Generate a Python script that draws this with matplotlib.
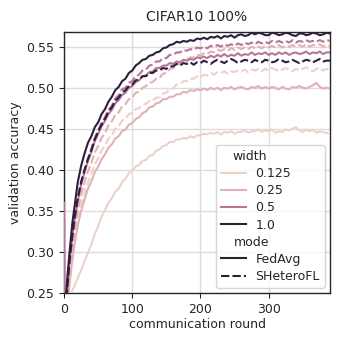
import matplotlib
matplotlib.use("Agg")
import matplotlib.pyplot as plt
import seaborn as sns
from matplotlib.lines import Line2D
from matplotlib.colors import Normalize

rounds = [0, 1, 3, 5, 8, 12, 16, 20, 25] + list(range(30, 391, 5))

fedavg_1_0 = [0.10, 0.22, 0.25, 0.272, 0.30, 0.335, 0.36, 0.385, 0.405,
              0.420, 0.433, 0.441, 0.452, 0.458, 0.468, 0.474, 0.483, 0.489, 0.497, 0.501, 0.508,
              0.511, 0.518, 0.521, 0.527, 0.530, 0.534, 0.535, 0.539, 0.540, 0.543, 0.544, 0.548,
              0.549, 0.552, 0.553, 0.556, 0.555, 0.557, 0.556, 0.558, 0.557, 0.560, 0.559, 0.561,
              0.559, 0.562, 0.561, 0.563, 0.560, 0.563, 0.562, 0.564, 0.561, 0.564, 0.565, 0.563,
              0.564, 0.567, 0.565, 0.567, 0.566, 0.564, 0.564, 0.567, 0.566, 0.564, 0.565, 0.567,
              0.566, 0.564, 0.563, 0.566, 0.566, 0.564, 0.565, 0.567, 0.566, 0.564, 0.565, 0.567,
              0.566]
shetero_1_0 = [0.10, 0.20, 0.235, 0.26, 0.29, 0.32, 0.345, 0.365, 0.385,
               0.400, 0.413, 0.424, 0.437, 0.447, 0.455, 0.462, 0.471, 0.476, 0.484, 0.488, 0.494,
               0.497, 0.502, 0.504, 0.509, 0.510, 0.514, 0.514, 0.518, 0.518, 0.521, 0.521, 0.524,
               0.523, 0.526, 0.526, 0.529, 0.527, 0.530, 0.529, 0.531, 0.528, 0.531, 0.530, 0.533,
               0.531, 0.529, 0.532, 0.534, 0.532, 0.530, 0.533, 0.535, 0.533, 0.530, 0.532, 0.534,
               0.533, 0.531, 0.534, 0.532, 0.531, 0.534, 0.533, 0.531, 0.532, 0.535, 0.533, 0.531,
               0.532, 0.534, 0.532, 0.530, 0.532, 0.534, 0.533, 0.531, 0.533, 0.535, 0.532, 0.533,
               0.533]
fedavg_0_5 = [0.36, 0.20, 0.235, 0.258, 0.288, 0.318, 0.342, 0.362, 0.382,
              0.397, 0.411, 0.422, 0.435, 0.444, 0.453, 0.460, 0.468, 0.473, 0.481, 0.485, 0.491,
              0.494, 0.500, 0.502, 0.507, 0.509, 0.514, 0.515, 0.519, 0.520, 0.524, 0.524, 0.527,
              0.527, 0.530, 0.529, 0.532, 0.531, 0.534, 0.533, 0.535, 0.534, 0.537, 0.536, 0.538,
              0.536, 0.539, 0.537, 0.540, 0.538, 0.541, 0.538, 0.540, 0.539, 0.542, 0.539, 0.541,
              0.540, 0.543, 0.540, 0.542, 0.541, 0.543, 0.540, 0.542, 0.540, 0.543, 0.541, 0.543,
              0.540, 0.542, 0.543, 0.541, 0.542, 0.544, 0.541, 0.543, 0.542, 0.544, 0.541, 0.543,
              0.543]
shetero_0_5 = [0.10, 0.20, 0.235, 0.26, 0.29, 0.322, 0.346, 0.366, 0.386,
               0.400, 0.414, 0.426, 0.439, 0.448, 0.458, 0.464, 0.473, 0.478, 0.487, 0.491, 0.498,
               0.500, 0.506, 0.508, 0.514, 0.516, 0.521, 0.522, 0.527, 0.528, 0.532, 0.532, 0.536,
               0.536, 0.540, 0.540, 0.543, 0.543, 0.546, 0.545, 0.547, 0.546, 0.549, 0.548, 0.550,
               0.548, 0.551, 0.550, 0.552, 0.550, 0.553, 0.551, 0.553, 0.551, 0.554, 0.552, 0.555,
               0.553, 0.555, 0.553, 0.556, 0.554, 0.556, 0.554, 0.557, 0.555, 0.557, 0.555, 0.557,
               0.555, 0.558, 0.555, 0.557, 0.556, 0.558, 0.556, 0.557, 0.556, 0.558, 0.556, 0.558,
               0.557]
fedavg_0_25 = [0.10, 0.18, 0.21, 0.235, 0.262, 0.29, 0.313, 0.332, 0.35,
               0.364, 0.377, 0.386, 0.397, 0.404, 0.413, 0.419, 0.427, 0.431, 0.438, 0.441, 0.447,
               0.449, 0.455, 0.457, 0.462, 0.464, 0.469, 0.471, 0.476, 0.477, 0.481, 0.482, 0.486,
               0.486, 0.489, 0.489, 0.492, 0.492, 0.495, 0.494, 0.497, 0.496, 0.498, 0.497, 0.499,
               0.497, 0.500, 0.498, 0.500, 0.497, 0.500, 0.499, 0.501, 0.498, 0.500, 0.501, 0.499,
               0.498, 0.501, 0.500, 0.502, 0.499, 0.501, 0.499, 0.501, 0.500, 0.498, 0.501, 0.499,
               0.498, 0.501, 0.500, 0.502, 0.500, 0.499, 0.501, 0.503, 0.506, 0.501, 0.499, 0.500,
               0.499]
shetero_0_25 = [0.10, 0.19, 0.22, 0.245, 0.275, 0.305, 0.33, 0.35, 0.37,
                0.385, 0.398, 0.409, 0.421, 0.429, 0.439, 0.445, 0.454, 0.459, 0.467, 0.470, 0.477,
                0.480, 0.486, 0.488, 0.494, 0.495, 0.500, 0.502, 0.506, 0.507, 0.511, 0.512, 0.517,
                0.518, 0.523, 0.524, 0.528, 0.529, 0.533, 0.534, 0.537, 0.537, 0.540, 0.539, 0.542,
                0.541, 0.544, 0.543, 0.546, 0.545, 0.547, 0.545, 0.548, 0.546, 0.549, 0.547, 0.549,
                0.547, 0.550, 0.548, 0.550, 0.548, 0.551, 0.549, 0.551, 0.549, 0.552, 0.549, 0.551,
                0.550, 0.552, 0.550, 0.552, 0.550, 0.553, 0.550, 0.552, 0.551, 0.553, 0.550, 0.552,
                0.551]
fedavg_0_125 = [0.20, 0.21, 0.225, 0.235, 0.245, 0.253, 0.26, 0.268, 0.278,
                0.289, 0.299, 0.309, 0.322, 0.331, 0.343, 0.351, 0.360, 0.365, 0.373, 0.377, 0.385,
                0.389, 0.396, 0.399, 0.404, 0.406, 0.411, 0.412, 0.417, 0.418, 0.423, 0.425, 0.429,
                0.430, 0.434, 0.434, 0.437, 0.437, 0.439, 0.438, 0.441, 0.439, 0.442, 0.442, 0.444,
                0.443, 0.445, 0.444, 0.446, 0.443, 0.446, 0.445, 0.447, 0.444, 0.446, 0.446, 0.448,
                0.445, 0.447, 0.447, 0.449, 0.446, 0.448, 0.447, 0.449, 0.445, 0.447, 0.446, 0.449,
                0.448, 0.450, 0.452, 0.448, 0.446, 0.449, 0.447, 0.449, 0.445, 0.447, 0.446, 0.445,
                0.444]
shetero_0_125 = [0.10, 0.18, 0.21, 0.235, 0.265, 0.295, 0.318, 0.338, 0.358,
                 0.372, 0.385, 0.395, 0.407, 0.414, 0.424, 0.429, 0.438, 0.442, 0.450, 0.453, 0.460,
                 0.462, 0.468, 0.469, 0.474, 0.475, 0.480, 0.480, 0.484, 0.484, 0.488, 0.488, 0.493,
                 0.494, 0.498, 0.499, 0.504, 0.504, 0.508, 0.508, 0.511, 0.511, 0.514, 0.513, 0.516,
                 0.515, 0.518, 0.516, 0.519, 0.518, 0.520, 0.517, 0.520, 0.519, 0.521, 0.520, 0.522,
                 0.519, 0.522, 0.521, 0.523, 0.520, 0.523, 0.521, 0.524, 0.522, 0.520, 0.522, 0.524,
                 0.522, 0.520, 0.523, 0.521, 0.523, 0.525, 0.522, 0.520, 0.523, 0.524, 0.521, 0.523,
                 0.522]

widths = [0.125, 0.25, 0.5, 1.0]
modes = ["FedAvg", "SHeteroFL"]
series = {
    (0.125, "FedAvg"): fedavg_0_125, (0.125, "SHeteroFL"): shetero_0_125,
    (0.25, "FedAvg"): fedavg_0_25, (0.25, "SHeteroFL"): shetero_0_25,
    (0.5, "FedAvg"): fedavg_0_5, (0.5, "SHeteroFL"): shetero_0_5,
    (1.0, "FedAvg"): fedavg_1_0, (1.0, "SHeteroFL"): shetero_1_0,
}

title = "CIFAR10 100%"
xlabel = "communication round"
ylabel = "validation accuracy"

txt = "#262626"
plt.rcParams.update({
    "font.family": ["DejaVu Sans"],
    "text.color": txt, "axes.labelcolor": txt,
    "xtick.color": txt, "ytick.color": txt,
    "axes.edgecolor": txt,
})

cmap = sns.cubehelix_palette(as_cmap=True)
norm = Normalize(min(widths), max(widths))
dash_styles = {"FedAvg": "-", "SHeteroFL": (0, (4, 1.5))}

fig = plt.figure(figsize=(3.43, 3.43), dpi=100)
ax = fig.add_axes([0.187, 0.146, 0.775, 0.761])

for w in widths:
    for m in modes:
        ax.plot(rounds, series[(w, m)], color=cmap(norm(w)), linestyle=dash_styles[m],
                lw=1.5, zorder=3)

ax.set_xlim(0, 390)
ax.set_ylim(0.25, 0.568)
ax.set_xticks([0, 100, 200, 300])
ax.set_yticks([0.25, 0.30, 0.35, 0.40, 0.45, 0.50, 0.55])
ax.set_yticklabels(["0.25", "0.30", "0.35", "0.40", "0.45", "0.50", "0.55"])
ax.tick_params(labelsize=9, length=3.5, width=0.8)
ax.grid(True, color="#dcdcdc", lw=1.0, zorder=0)
ax.set_axisbelow(True)
for s in ax.spines.values():
    s.set_linewidth(1.0)
ax.set_xlabel(xlabel, fontsize=9, labelpad=2)
ax.set_ylabel(ylabel, fontsize=9, labelpad=3)
ax.set_title(title, fontsize=10, pad=8)

blank = Line2D([], [], linestyle="", marker="")
handles = [blank] + [Line2D([], [], color=cmap(norm(w)), lw=1.5) for w in widths] + \
          [blank] + [Line2D([], [], color=txt, lw=1.5, linestyle=dash_styles[m]) for m in modes]
labels = ["width"] + [str(w) for w in widths] + ["mode"] + modes
leg = ax.legend(handles, labels, loc="lower right", fontsize=9, framealpha=0.8,
                edgecolor="#cccccc", borderaxespad=0.4, labelspacing=0.33)
texts = leg.get_texts()
texts[0].set_x(-23)
texts[5].set_x(-22)

fig.savefig("out.png", dpi=100)
